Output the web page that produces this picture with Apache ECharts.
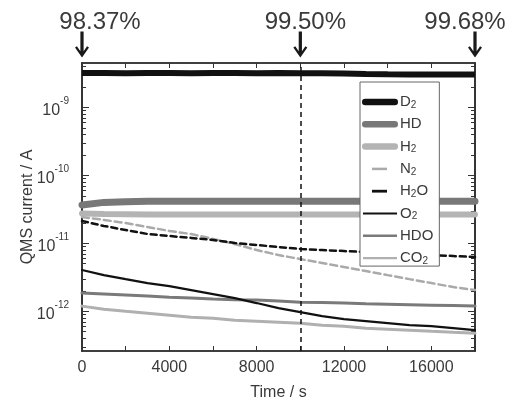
<!DOCTYPE html>
<html>
<head>
<meta charset="utf-8">
<script src="https://cdn.jsdelivr.net/npm/echarts@6/dist/echarts.min.js"></script>
<style>html,body{margin:0;padding:0;background:#fff}#c{width:517px;height:400px}</style>
</head>
<body>
<div id="c"></div>
<script>
// ---- data ----
const times = [0,1000,2000,3000,4000,5000,6000,7000,8000,9000,10000,11000,12000,13000,14000,15000,16000,17000,18000];
const seriesNames = ['D2','HD','H2','N2','H2O','O2','HDO','CO2'];
const d2  = [3.2e-9,3.2e-9,3.19e-9,3.2e-9,3.2e-9,3.19e-9,3.2e-9,3.2e-9,3.19e-9,3.2e-9,3.18e-9,3.18e-9,3.14e-9,3.1e-9,3.07e-9,3.05e-9,3.05e-9,3.04e-9,3.04e-9];
const hd  = [3.67e-11,4.0e-11,4.1e-11,4.14e-11,4.15e-11,4.15e-11,4.15e-11,4.15e-11,4.14e-11,4.14e-11,4.14e-11,4.14e-11,4.14e-11,4.14e-11,4.14e-11,4.14e-11,4.14e-11,4.14e-11,4.14e-11];
const h2  = [2.75e-11,2.7e-11,2.68e-11,2.66e-11,2.66e-11,2.66e-11,2.66e-11,2.66e-11,2.66e-11,2.66e-11,2.66e-11,2.66e-11,2.66e-11,2.66e-11,2.66e-11,2.66e-11,2.66e-11,2.66e-11,2.66e-11];
const n2  = [2.44e-11,2.21e-11,1.99e-11,1.74e-11,1.52e-11,1.37e-11,1.16e-11,9.77e-12,7.96e-12,6.71e-12,5.86e-12,5.12e-12,4.47e-12,3.90e-12,3.40e-12,2.97e-12,2.60e-12,2.27e-12,2.05e-12];
const h2o = [2.13e-11,1.80e-11,1.57e-11,1.37e-11,1.28e-11,1.20e-11,1.12e-11,1.01e-11,9.44e-12,8.81e-12,8.24e-12,7.96e-12,7.69e-12,7.44e-12,7.19e-12,6.95e-12,6.71e-12,6.50e-12,6.28e-12];
const o2  = [4.04e-12,3.40e-12,2.97e-12,2.60e-12,2.34e-12,2.05e-12,1.79e-12,1.56e-12,1.32e-12,1.11e-12,9.70e-13,8.47e-13,7.65e-13,7.15e-13,6.68e-13,6.24e-13,6.03e-13,5.64e-13,5.26e-13];
const hdo = [1.85e-12,1.79e-12,1.73e-12,1.67e-12,1.61e-12,1.56e-12,1.51e-12,1.48e-12,1.46e-12,1.41e-12,1.36e-12,1.34e-12,1.32e-12,1.29e-12,1.27e-12,1.25e-12,1.23e-12,1.21e-12,1.19e-12];
const co2 = [1.19e-12,1.07e-12,1.00e-12,9.37e-13,8.75e-13,8.18e-13,7.91e-13,7.39e-13,7.14e-13,6.90e-13,6.67e-13,6.23e-13,6.02e-13,5.63e-13,5.44e-13,5.26e-13,5.08e-13,4.91e-13,4.75e-13];
const markTimes = [0, 10000, 18000];
const markLabels = ['98.37%', '99.50%', '99.68%'];
const xMin = 0, xMax = 18000, xInterval = 2000, xLabelStep = 4000;
const yMin = 2.6e-13, yMax = 4.5e-9;
const yMajorTicks = [1e-12, 1e-11, 1e-10, 1e-9];
const yMinorTicks = [3e-13,4e-13,5e-13,6e-13,7e-13,8e-13,9e-13,
  2e-12,3e-12,4e-12,5e-12,6e-12,7e-12,8e-12,9e-12,
  2e-11,3e-11,4e-11,5e-11,6e-11,7e-11,8e-11,9e-11,
  2e-10,3e-10,4e-10,5e-10,6e-10,7e-10,8e-10,9e-10,
  2e-9,3e-9,4e-9];
const dashedTime = 10000;

// ---- styling ----
const FONT = 'Liberation Sans';
const TXT = '#3a3a3a';
const AX = '#333';
const styles = {
  D2:  {color:'#111111', width:6, type:'solid'},
  HD:  {color:'#787878', width:7, type:'solid'},
  H2:  {color:'#b4b4b4', width:6, type:'solid'},
  N2:  {color:'#aaaaaa', width:2.5, type:[7,4]},
  H2O: {color:'#111111', width:2.5, type:[6,4]},
  O2:  {color:'#111111', width:2.2, type:'solid'},
  HDO: {color:'#7a7a7a', width:3, type:'solid'},
  CO2: {color:'#b0b0b0', width:3, type:'solid'}
};
const values = {D2:d2, HD:hd, H2:h2, N2:n2, H2O:h2o, O2:o2, HDO:hdo, CO2:co2};

function barIcon(h, x0, x1, round) {
  const y0 = 5 - h / 2, y1 = 5 + h / 2, r = h / 2;
  const box = 'path://M0,0 L0,0 M36,10 L36,10 ';
  if (round) {
    return box + `M${x0 + r},${y0} L${x1 - r},${y0} A${r},${r} 0 0 1 ${x1 - r},${y1} L${x0 + r},${y1} A${r},${r} 0 0 1 ${x0 + r},${y0} Z`;
  }
  return box + `M${x0},${y0} L${x1},${y0} L${x1},${y1} L${x0},${y1} Z`;
}
const legendIcons = {
  D2: barIcon(6.5, 0, 36, true),
  HD: barIcon(6.5, 0, 36, true),
  H2: barIcon(6.5, 0, 36, true),
  N2: barIcon(2.5, 10, 25, false),
  H2O: barIcon(2.8, 10, 25, false),
  O2: barIcon(1.8, 1, 35, false),
  HDO: barIcon(2.4, 1, 35, false),
  CO2: barIcon(2.4, 1, 35, false)
};

const arrowPath = 'path://M5,0 L8,0 L8,21 L11.2,15.6 L13,17 L6.5,27.5 L0,17 L1.8,15.6 L5,21 Z';
const labelOffsets = [18, 5, -10];

// draw order: later series on top
const drawOrder = ['CO2','HDO','N2','H2O','O2','H2','HD','D2'];
const series = drawOrder.map(name => {
  const s = {
    name: name,
    type: 'line',
    showSymbol: false,
    symbol: 'none',
    animation: false,
    z: 2,
    lineStyle: {color: styles[name].color, width: styles[name].width, type: styles[name].type, cap: 'round'},
    itemStyle: {color: styles[name].color},
    data: times.map((t, i) => [t, values[name][i]])
  };
  if (name === 'D2') {
    s.lineStyle.cap = 'butt';
    s.markLine = {
      silent: true, symbol: 'none', animation: false,
      label: {show: false},
      lineStyle: {color: '#111', width: 1.5, type: [5,4]},
      data: [{xAxis: dashedTime}]
    };
    s.markPoint = {
      silent: true, animation: false,
      symbol: arrowPath,
      symbolSize: [14, 26],
      symbolKeepAspect: false,
      symbolOffset: [0, -18.5],
      itemStyle: {color: '#1a1a1a'},
      data: markTimes.map((t, i) => ({
        coord: [t, yMax],
        label: {
          show: true, position: 'top', distance: 1,
          offset: [labelOffsets[i], 4],
          formatter: markLabels[i],
          fontFamily: FONT, fontSize: 24, color: TXT
        }
      }))
    };
  }
  return s;
});

function subName(n) {
  return n.replace(/(\d)/g, '{s|$1}');
}
function powLabel(v) {
  const e = Math.round(Math.log10(v));
  return '{b|10}{s|' + e + '}';
}

const legendData = seriesNames.map(n => ({name: n, icon: legendIcons[n], itemStyle: {color: styles[n].color}}));

const baseY = {
  type: 'log', logBase: 10, min: yMin, max: yMax,
  splitLine: {show: false},
  axisLine: {show: true, onZero: false, lineStyle: {color: AX, width: 1.5}},
};

const option = {
  animation: false,
  backgroundColor: '#fff',
  grid: {left: 82, right: 42, top: 63, bottom: 49, containLabel: false, outerBoundsMode: 'none',
         show: true, borderColor: AX, borderWidth: 1.5, backgroundColor: 'transparent'},
  legend: {
    z: 10,
    orient: 'vertical',
    left: 360, top: 82,
    padding: [12, 6, 0, 2],
    backgroundColor: '#fff',
    borderColor: '#666', borderWidth: 1, borderRadius: 0,
    itemWidth: 36, itemHeight: 10, itemGap: 6.3,
    symbolKeepAspect: true,
    data: legendData,
    textStyle: {
      fontFamily: FONT, fontSize: 15, color: TXT, lineHeight: 16,
      padding: [0, 0, 0, -3],
      rich: {s: {fontFamily: FONT, fontSize: 10, color: TXT, verticalAlign: 'bottom', lineHeight: 16, padding: [5, 0, 0, 0]}}
    },
    formatter: subName
  },
  xAxis: [
    {
      type: 'value', position: 'bottom', min: xMin, max: xMax, interval: xInterval,
      name: 'Time / s', nameLocation: 'middle', nameGap: 34, nameMoveOverlap: false,
      nameTextStyle: {fontFamily: FONT, fontSize: 16, color: TXT},
      splitLine: {show: false},
      axisLine: {show: true, onZero: false, lineStyle: {color: AX, width: 1.5}},
      axisTick: {show: true, inside: true, length: 5, lineStyle: {color: AX, width: 1}},
      axisLabel: {
        margin: 9, fontFamily: FONT, fontSize: 16, color: TXT,
        formatter: v => (v % xLabelStep === 0 ? String(v) : '')
      }
    },
    {
      type: 'value', position: 'top', min: xMin, max: xMax, interval: xInterval,
      splitLine: {show: false},
      axisLine: {show: true, onZero: false, lineStyle: {color: AX, width: 1.5}},
      axisTick: {show: true, inside: true, length: 5, lineStyle: {color: AX, width: 1}},
      axisLabel: {show: false}
    }
  ],
  yAxis: [
    Object.assign({}, baseY, {
      position: 'left',
      name: 'QMS current / A', nameLocation: 'middle', nameGap: 46, nameRotate: 90, nameMoveOverlap: false,
      nameTextStyle: {fontFamily: FONT, fontSize: 16, color: TXT},
      axisTick: {show: true, inside: true, length: 7, lineStyle: {color: AX, width: 1}, customValues: yMajorTicks},
      axisLabel: {
        margin: 13, fontFamily: FONT, fontSize: 16, color: TXT,
        customValues: yMajorTicks,
        formatter: powLabel,
        rich: {
          b: {fontFamily: FONT, fontSize: 16, color: TXT, lineHeight: 22, verticalAlign: 'bottom'},
          s: {fontFamily: FONT, fontSize: 10, color: TXT, lineHeight: 22, verticalAlign: 'top'}
        }
      }
    }),
    Object.assign({}, baseY, {
      position: 'left',
      axisTick: {show: true, inside: true, length: 4, lineStyle: {color: AX, width: 1}, customValues: yMinorTicks},
      axisLabel: {show: false}
    }),
    Object.assign({}, baseY, {
      position: 'right',
      axisTick: {show: true, inside: true, length: 7, lineStyle: {color: AX, width: 1}, customValues: yMajorTicks},
      axisLabel: {show: false}
    }),
    Object.assign({}, baseY, {
      position: 'right',
      axisTick: {show: true, inside: true, length: 4, lineStyle: {color: AX, width: 1}, customValues: yMinorTicks},
      axisLabel: {show: false}
    })
  ],
  series: series
};

const chart = echarts.init(document.getElementById('c'), null, {renderer: 'canvas'});
chart.setOption(option);
</script>
</body>
</html>
